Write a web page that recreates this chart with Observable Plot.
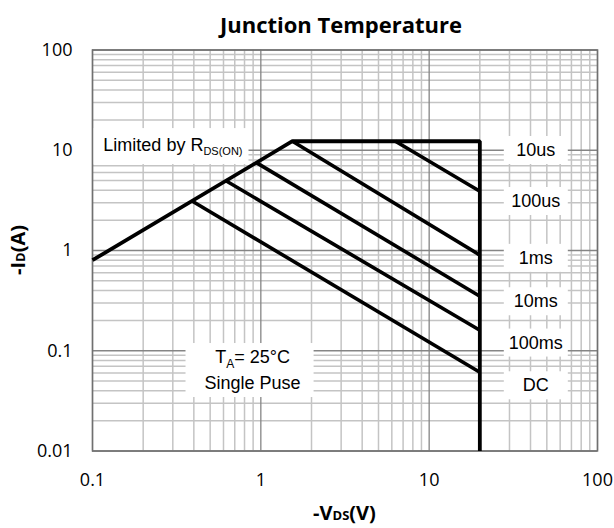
<!DOCTYPE html>
<html><head><meta charset="utf-8">
<script src="https://cdn.jsdelivr.net/npm/d3@7"></script>
<script src="https://cdn.jsdelivr.net/npm/@observablehq/plot@0.6"></script>
<style>
body{margin:0;background:#fff;}
#title{height:36px;width:614px;box-sizing:border-box;padding-left:68px;text-align:center;font:bold 22px "Open Sans";line-height:48px;overflow:visible;white-space:nowrap;}
#chart svg{display:block;}
</style></head><body>
<div id="title">Junction Temperature</div>
<div id="chart"></div>
<script>
// ---- axis ticks ----
const xMajor = [0.1, 1, 10, 100];
const xMajorLabels = ["0.1", "1", "10", "100"];
const yMajor = [0.01, 0.1, 1, 10, 100];
const yMajorLabels = ["0.01", "0.1", "1", "10", "100"];

// ---- SOA boundary: RDS(on) limit -> current limit -> voltage limit ----
const boundaryV = [0.1, 1.54, 20, 20];
const boundaryI = [0.8, 12.3, 12.3, 0.01];

// ---- pulse-width limit lines (start point, end point at Vds = 20 V) ----
const pulseStartV = [6.3, 1.54, 0.94, 0.62, 0.39];
const pulseStartI = [12.3, 12.3, 7.52, 4.96, 3.12];
const pulseEndV = [20, 20, 20, 20, 20];
const pulseEndI = [3.9, 0.9, 0.35, 0.16, 0.061];

// ---- right-hand labels ----
const rightLabels = ["10us", "100us", "1ms", "10ms", "100ms", "DC"];
const rightLabelI = [10, 3.1, 0.84, 0.31, 0.12, 0.045];
const rightLabelV = [43, 43, 43, 43, 43, 43];

// ---- annotations ----
const limitMain = "Limited by R", limitSub = "DS(ON)";
const limitV = [0.116], limitI = [11.2];
const taMain = "T", taSub = "A", taRest = "= 25°C";
const taLine2 = "Single Puse";
const taV = [0.893, 0.893], taI = [0.0861, 0.0474];

const xLabelParts = ["-V", "DS", "(V)"];
const yLabelParts = ["-I", "D", "(A)"];

// ---- tables ----
const boundary = boundaryV.map((v, i) => ({V: v, I: boundaryI[i]}));
const pulses = pulseStartV.map((v, i) => ({x1: v, y1: pulseStartI[i], x2: pulseEndV[i], y2: pulseEndI[i]}));
const rlabels = rightLabels.map((t, i) => ({t, V: rightLabelV[i], I: rightLabelI[i]}));
const limRows = [{t: limitMain, V: limitV[0], I: limitI[0]}];
const taRows = [{t: taMain, V: taV[0], I: taI[0]}, {t: taLine2, V: taV[1], I: taI[1]}];

const xAll = d3.scaleLog().domain([0.1, 100]).ticks();
const yAll = d3.scaleLog().domain([0.01, 100]).ticks();
const xMinor = xAll.filter(d => !xMajor.some(m => Math.abs(m - d) / m < 1e-9));
const yMinor = yAll.filter(d => !yMajor.some(m => Math.abs(m - d) / m < 1e-9));

const W = 614, H = 492;
const mL = 92, mR = 17, mT = 13.5, mB = 77.5;
const annFont = "Liberation Sans, Arial, sans-serif";

const svg = Plot.plot({
  width: W, height: H,
  marginTop: mT, marginBottom: mB, marginLeft: mL, marginRight: mR,
  x: {type: "log", domain: [0.1, 100]},
  y: {type: "log", domain: [0.01, 100]},
  style: {fontFamily: "Open Sans", fontSize: "18px", color: "#000", background: "#fff"},
  marks: [
    Plot.gridX(xMinor, {stroke: "#c4c4c4", strokeOpacity: 1, strokeWidth: 1.5}),
    Plot.gridY(yMinor, {stroke: "#c4c4c4", strokeOpacity: 1, strokeWidth: 1.5}),
    Plot.gridX(xMajor, {stroke: "#858585", strokeOpacity: 1, strokeWidth: 1.3}),
    Plot.gridY(yMajor, {stroke: "#858585", strokeOpacity: 1, strokeWidth: 1.3}),
    Plot.text(rlabels, {x: "V", y: "I", text: "t", fontSize: 18, fontFamily: annFont, fill: "#000"}),
    Plot.text(limRows, {x: "V", y: "I", text: "t", textAnchor: "start", fontSize: 18, fontFamily: annFont, fill: "#000"}),
    Plot.text(taRows, {x: "V", y: "I", text: "t", fontSize: 18, fontFamily: annFont, fill: "#000"}),
    Plot.frame({stroke: "#707070", strokeWidth: 1.5}),
    Plot.axisX(xMajor, {tickSize: 0, tickPadding: 22, tickFormat: d => xMajorLabels[xMajor.indexOf(d)], label: null, fontSize: 18}),
    Plot.axisY(yMajor, {tickSize: 0, tickPadding: 20, tickFormat: d => yMajorLabels[yMajor.indexOf(d)], label: null, fontSize: 18}),
    Plot.line(boundary, {x: "V", y: "I", stroke: "#000", strokeWidth: 3.8, strokeLinejoin: "miter", strokeLinecap: "butt"}),
    Plot.link(pulses, {x1: "x1", y1: "y1", x2: "x2", y2: "y2", stroke: "#000", strokeWidth: 3.6})
  ]
});
document.getElementById("chart").append(svg);

const NS = "http://www.w3.org/2000/svg";
function rel(el) {
  const r = el.getBoundingClientRect(), s = svg.getBoundingClientRect();
  return {x: r.left - s.left, y: r.top - s.top, w: r.width, h: r.height};
}
function addSub(t, sub, size, dy, rest) {
  const ts = document.createElementNS(NS, "tspan");
  ts.setAttribute("font-size", size);
  ts.setAttribute("dy", dy);
  ts.textContent = sub;
  t.appendChild(ts);
  if (rest != null) {
    const tr = document.createElementNS(NS, "tspan");
    tr.setAttribute("dy", -dy);
    tr.textContent = rest;
    t.appendChild(tr);
  }
}
function whiteRect(g, x, y, w, h) {
  const r = document.createElementNS(NS, "rect");
  r.setAttribute("x", x); r.setAttribute("y", y);
  r.setAttribute("width", w); r.setAttribute("height", h);
  r.setAttribute("fill", "#fff");
  g.parentNode.insertBefore(r, g);
}
// find the three annotation text groups (in mark order)
const textGroups = Array.from(svg.children).filter(g => g.tagName === "g" && g.getAttribute("aria-label") === "text");
const [rG, limG, taG] = textGroups;

// subscripts
addSub(limG.querySelector("text"), limitSub, 11, 4, null);
addSub(taG.querySelectorAll("text")[0], taSub, 12, 5, taRest);

// white label boxes
rG.querySelectorAll("text").forEach(t => {
  const b = rel(t);
  const cx = b.x + b.w / 2, cy = b.y + b.h / 2;
  whiteRect(rG, cx - 32, cy - 14, 64, 28);
});
{
  const b = rel(limG.querySelector("text"));
  whiteRect(limG, mL, b.y - 7, b.x + b.w + 6 - mL, b.h + 14);
}
{
  const ts = taG.querySelectorAll("text");
  const a = rel(ts[0]), c = rel(ts[1]);
  const x0 = Math.min(a.x, c.x) - 19, x1 = Math.max(a.x + a.w, c.x + c.w) + 13;
  const y0 = a.y - 4, y1 = c.y + c.h + 4;
  whiteRect(taG, x0, y0, x1 - x0, y1 - y0);
}

// axis titles
const s = d3.select(svg);
const xl = s.append("text").attr("x", mL + (W - mL - mR) / 2).attr("y", H - 8)
  .attr("text-anchor", "middle").attr("font-family", "Open Sans").attr("font-weight", "bold").attr("font-size", 20).attr("fill", "#000");
xl.append("tspan").text(xLabelParts[0]);
xl.append("tspan").attr("font-size", 13).text(xLabelParts[1]);
xl.append("tspan").text(xLabelParts[2]);
const yl = s.append("text").attr("transform", `translate(25,${mT + (H - mT - mB) / 2}) rotate(-90)`)
  .attr("text-anchor", "middle").attr("font-family", "Open Sans").attr("font-weight", "bold").attr("font-size", 20).attr("fill", "#000");
yl.append("tspan").text(yLabelParts[0]);
yl.append("tspan").attr("font-size", 13).text(yLabelParts[1]);
yl.append("tspan").text(yLabelParts[2]);
</script>
</body></html>
